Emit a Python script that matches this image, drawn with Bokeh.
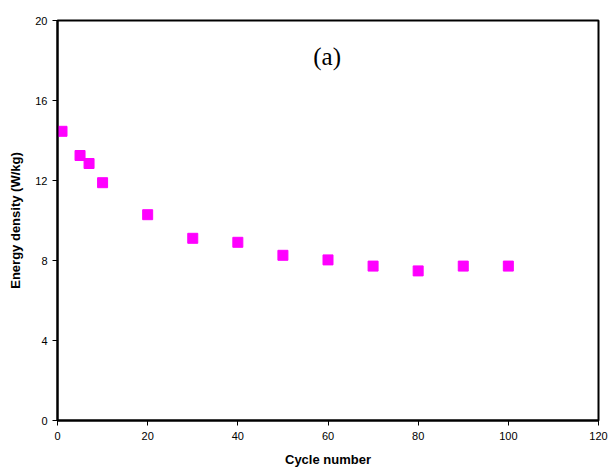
from bokeh.plotting import figure
from bokeh.models import Range1d, FixedTicker, Label, ColumnDataSource
from bokeh.embed import file_html
from bokeh.resources import INLINE

cycles = [1, 5, 7, 10, 20, 30, 40, 50, 60, 70, 80, 90, 100]
energy_density = [14.46, 13.25, 12.85, 11.89, 10.29, 9.11, 8.91, 8.26, 8.03, 7.72, 7.48, 7.72, 7.72]
x_ticks = [0, 20, 40, 60, 80, 100, 120]
y_ticks = [0, 4, 8, 12, 16, 20]

src = ColumnDataSource(dict(x=cycles, y=energy_density))

p = figure(width=608, height=469, output_backend="svg", toolbar_location=None,
           x_range=Range1d(0, 120), y_range=Range1d(0, 20),
           min_border_left=57, min_border_right=10, min_border_top=20, min_border_bottom=48)
p.xgrid.visible = False
p.ygrid.visible = False
p.outline_line_color = "black"
p.outline_line_width = 2
p.outline_line_alpha = 1

p.scatter("x", "y", source=src, marker="square", size=10, fill_color="#FF00FF",
          line_color="#FF00FF")

for ax, ticks in ((p.xaxis[0], x_ticks), (p.yaxis[0], y_ticks)):
    ax.ticker = FixedTicker(ticks=ticks)
    ax.minor_tick_line_color = None
    ax.major_tick_in = 0
    ax.major_tick_out = 5
    ax.major_tick_line_color = "black"
    ax.axis_line_width = 2
    ax.axis_line_color = "black"
    ax.major_label_text_font = "Liberation Sans"
    ax.major_label_text_font_size = "11px"
    ax.major_label_text_color = "black"
    ax.axis_label_text_font = "Liberation Sans"
    ax.axis_label_text_font_style = "bold"
    ax.axis_label_text_color = "black"
    ax.axis_label_text_font_size = "13px"

p.xaxis.axis_label = "Cycle number"
p.xaxis.major_label_standoff = 6
p.xaxis.axis_label_standoff = 9
p.yaxis.axis_label = "Energy density (W/kg)"
p.yaxis.major_label_standoff = 5
p.yaxis.axis_label_standoff = 9

p.add_layout(Label(x=59.8, y=18.2, text="(a)", text_font="Liberation Serif",
                   text_font_size="25px", text_align="center", text_baseline="middle",
                   text_color="black"))

open("out.html", "w").write(file_html(p, INLINE))
